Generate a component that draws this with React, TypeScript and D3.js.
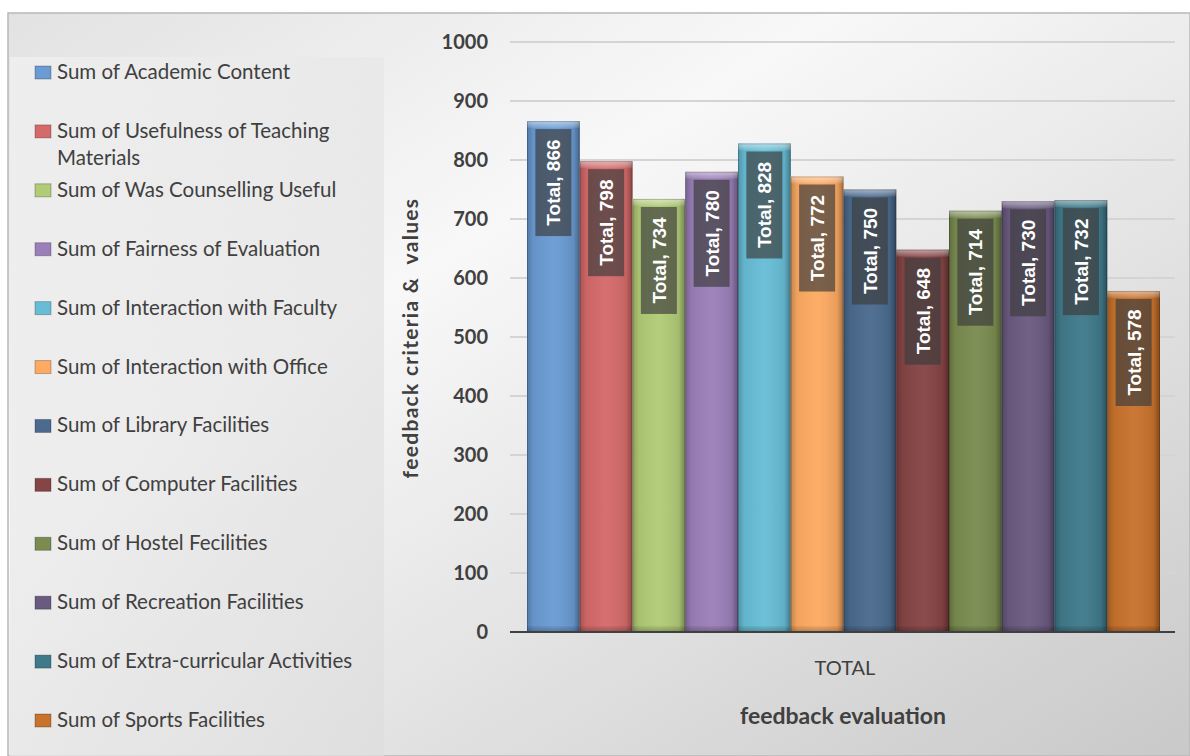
import React from 'react';
import * as d3 from 'd3';

const categories = [
  'Sum of Academic Content',
  'Sum of Usefulness of Teaching Materials',
  'Sum of Was Counselling Useful',
  'Sum of Fairness of Evaluation',
  'Sum of Interaction with Faculty',
  'Sum of Interaction with Office',
  'Sum of Library Facilities',
  'Sum of Computer Facilities',
  'Sum of Hostel Fecilities',
  'Sum of Recreation Facilities',
  'Sum of Extra-curricular Activities',
  'Sum of Sports Facilities',
];
const values = [866, 798, 734, 780, 828, 772, 750, 648, 714, 730, 732, 578];
const colors = ['#6a9bd3', '#d56a6a', '#b1cb76', '#9a7fb8', '#67bdd6', '#fdaa62', '#4a6a8e', '#864445', '#7a8c50', '#6a5a80', '#3f7a8b', '#c8722c'];
const yTicks = [0, 100, 200, 300, 400, 500, 600, 700, 800, 900, 1000];

const W = 1190;
const H = 756;
const font = 'Lato, "Open Sans", sans-serif';

export default function App() {
  const x = d3.scaleBand<string>().domain(categories).range([527, 1160]).padding(0);
  const y = d3.scaleLinear().domain([0, 1000]).range([632, 42]);
  const bw = x.bandwidth();

  // the long legend entry wraps onto two lines like the original
  const legendLines = categories.map((c) =>
    c === 'Sum of Usefulness of Teaching Materials' ? ['Sum of Usefulness of Teaching', 'Materials'] : [c]
  );
  const legendY = d3.scaleLinear().domain([0, 11]).range([72, 720]);

  return (
    <div style={{ position: 'absolute', left: 0, top: 0 }}>
      <svg width={W} height={H} style={{ display: 'block' }}>
        <defs>
          <linearGradient id="bg" x1="0" y1="0" x2="1" y2="1">
            <stop offset="0" stopColor="#e2e2e2" />
            <stop offset="0.35" stopColor="#f8f8f8" />
            <stop offset="1" stopColor="#c9c9c9" />
          </linearGradient>
          <linearGradient id="legbg" x1="0" y1="0" x2="1" y2="1">
            <stop offset="0" stopColor="#f1f1f1" />
            <stop offset="1" stopColor="#dedede" />
          </linearGradient>
          <linearGradient id="side" x1="0" y1="0" x2="1" y2="0">
            <stop offset="0" stopColor="#000" stopOpacity="0.22" />
            <stop offset="0.12" stopColor="#000" stopOpacity="0.05" />
            <stop offset="0.5" stopColor="#fff" stopOpacity="0.04" />
            <stop offset="0.88" stopColor="#000" stopOpacity="0.08" />
            <stop offset="1" stopColor="#000" stopOpacity="0.35" />
          </linearGradient>
          <linearGradient id="topb" x1="0" y1="0" x2="0" y2="1">
            <stop offset="0" stopColor="#fff" stopOpacity="0.5" />
            <stop offset="1" stopColor="#fff" stopOpacity="0.08" />
          </linearGradient>
          <linearGradient id="botb" x1="0" y1="0" x2="0" y2="1">
            <stop offset="0" stopColor="#000" stopOpacity="0.05" />
            <stop offset="1" stopColor="#000" stopOpacity="0.25" />
          </linearGradient>
        </defs>
        <rect x={0} y={0} width={W} height={H} fill="#ffffff" />
        <rect x={8} y={13} width={W - 8} height={H - 13} fill="url(#bg)" stroke="#b8b8b8" strokeWidth={1.5} />
        <rect x={10} y={57} width={374} height={H - 57} fill="url(#legbg)" opacity={0.75} />

        {/* legend */}
        {legendLines.map((lines, i) => (
          <g key={i}>
            <rect x={35} y={legendY(i) - 6} width={16} height={13} fill={colors[i]} stroke="#00000040" strokeWidth={1} />
            {lines.map((l, j) => (
              <text key={j} x={57} y={legendY(i) + 7 + j * 27} fontFamily={font} fontSize={20.5} fill="#404040">
                {l}
              </text>
            ))}
          </g>
        ))}

        {/* grid */}
        {yTicks.map((t) => (
          <g key={t}>
            {t > 0 && <line x1={510} x2={1175} y1={y(t)} y2={y(t)} stroke="#d4d4d4" strokeWidth={2} />}
            <text x={488} y={y(t) + 7} textAnchor="end" fontFamily={font} fontWeight="bold" fontSize={20} fill="#404040">
              {t}
            </text>
          </g>
        ))}

        {/* bars */}
        {categories.map((c, i) => {
          const x0 = x(c)!;
          const y0 = y(values[i]);
          const h = y(0) - y0;
          return (
            <g key={c}>
              <rect x={x0} y={y0} width={bw} height={h} fill={colors[i]} />
              <rect x={x0} y={y0} width={bw} height={h} fill="url(#side)" />
              <rect x={x0} y={y0} width={bw} height={7} fill="url(#topb)" />
              <rect x={x0} y={y(0) - 6} width={bw} height={6} fill="url(#botb)" />
              <rect x={x0 + 0.5} y={y0 + 0.5} width={bw - 1} height={h - 1} fill="none" stroke="#00000033" strokeWidth={1} />
              <rect x={x0 + bw / 2 - 18} y={y0 + 8} width={36} height={107} fill="#3c3c3c" fillOpacity={0.68} />
              <text
                transform={`translate(${x0 + bw / 2 + 7},${y0 + 8 + 53.5}) rotate(-90)`}
                textAnchor="middle"
                fontFamily='"Liberation Sans", Arial, sans-serif'
                fontWeight="bold"
                fontSize={19}
                fill="#ffffff"
              >
                {`Total, ${values[i]}`}
              </text>
            </g>
          );
        })}

        <line x1={510} x2={1175} y1={y(0)} y2={y(0)} stroke="#404040" strokeWidth={2} />

        <text x={845} y={675} textAnchor="middle" fontFamily={font} fontSize={20} fill="#404040">TOTAL</text>
        <text x={843} y={724} textAnchor="middle" fontFamily={font} fontWeight="bold" fontSize={23} fill="#404040">feedback evaluation</text>
        <text transform="translate(418,338) rotate(-90)" textAnchor="middle" fontFamily={font} fontWeight="bold" fontSize={21} letterSpacing={1.3} fill="#404040" xmlSpace="preserve">
          feedback criteria &amp;  values
        </text>
      </svg>
    </div>
  );
}
